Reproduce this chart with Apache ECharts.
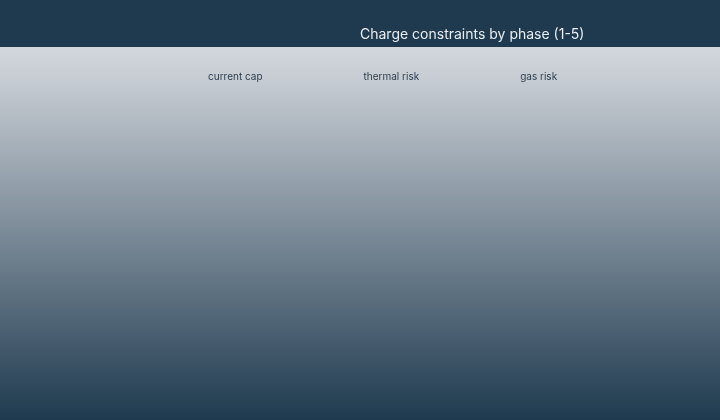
<!DOCTYPE html>
<html>
<head>
<meta charset="utf-8">
<script src="https://cdn.jsdelivr.net/npm/echarts@6/dist/echarts.min.js"></script>
<style>
  html, body { margin: 0; padding: 0; }
  #chart { width: 720px; height: 420px; }
</style>
</head>
<body>
<div id="chart"></div>
<script>
// phases 1-5, nothing plotted in the reference
const phases = ['1', '2', '3', '4', '5'];
const seriesNames = ['current cap', 'thermal risk', 'gas risk'];
const currentCap = [];
const thermalRisk = [];
const gasRisk = [];

const chart = echarts.init(document.getElementById('chart'));

chart.setOption({
  backgroundColor: {
    type: 'linear', x: 0, y: 0, x2: 0, y2: 1,
    colorStops: [
      { offset: 0, color: '#e6e9ec' },
      { offset: 0.2, color: '#c4cad1' },
      { offset: 1, color: '#1f3a4f' }
    ]
  },
  textStyle: { fontFamily: 'Inter' },
  graphic: [{
    type: 'rect',
    left: 0, top: 0,
    shape: { width: 720, height: 47 },
    style: { fill: '#1f3a4f' },
    z: -1
  }],
  title: {
    text: 'Charge constraints by phase (1-5)',
    left: 355,
    top: 23,
    textStyle: { color: '#e8edf2', fontSize: 14, fontWeight: 'normal', fontFamily: 'Inter' }
  },
  legend: {
    data: seriesNames,
    top: 65,
    left: 198,
    icon: 'none',
    itemWidth: 0,
    itemGap: 96,
    textStyle: { color: '#2c3e50', fontSize: 10, fontFamily: 'Inter' }
  },
  grid: { left: 40, right: 40, top: 100, bottom: 40 },
  xAxis: { type: 'category', data: phases, show: false },
  yAxis: { type: 'value', show: false },
  series: [
    { name: seriesNames[0], type: 'line', data: currentCap },
    { name: seriesNames[1], type: 'line', data: thermalRisk },
    { name: seriesNames[2], type: 'line', data: gasRisk }
  ]
});
</script>
</body>
</html>
